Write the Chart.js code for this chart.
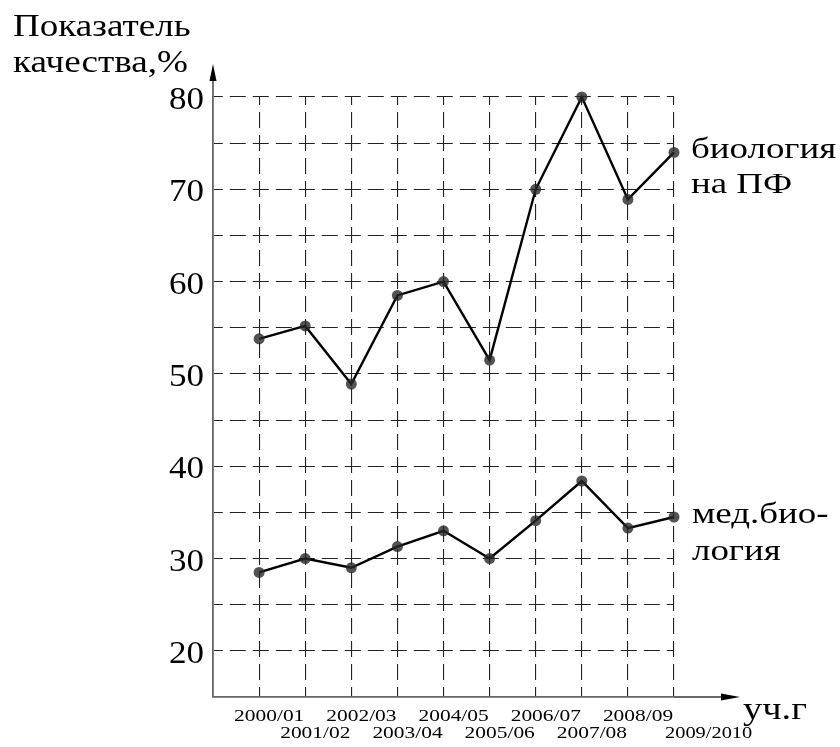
<!DOCTYPE html>
<html>
<head>
<meta charset="utf-8">
<script src="https://cdn.jsdelivr.net/npm/chart.js@4"></script>
<style>
  body { margin: 0; background: #fff; }
  #wrap { width: 840px; height: 747px; position: relative; }
</style>
</head>
<body>
<div id="wrap"><canvas id="myChart"></canvas></div>
<script>
const ctx = document.getElementById('myChart');

// учебные годы
const years = ['2000/01', '2001/02', '2002/03', '2003/04', '2004/05',
  '2005/06', '2006/07', '2007/08', '2008/09', '2009/2010'];

const biologyPF = [53.8, 55.2, 48.9, 58.5, 60, 51.5, 70, 80, 68.9, 74];
const medBiology = [28.5, 30, 29, 31.3, 33, 30, 34.1, 38.4, 33.3, 34.5];

const seriesLabels = [['биология', 'на ПФ'], ['мед.био-', 'логия']];
const yTickLabels = [20, 30, 40, 50, 60, 70, 80];
const yAxisTitle = ['Показатель', 'качества,%'];
const xAxisTitle = 'уч.г';

const serif = "'Liberation Serif', 'DejaVu Serif', serif";

// текст в исходнике растянут по горизонтали
function wideText(c, text, x, y, align, sx) {
  c.save();
  c.translate(x, y);
  c.scale(sx, 1);
  c.textAlign = align;
  c.fillText(text, 0, 0);
  c.restore();
}

// стрелки осей, подписи осей, тиков и серий
const extras = {
  id: 'extras',
  afterDraw(chart) {
    const c = chart.ctx;
    const area = chart.chartArea;
    const x = chart.scales.x;
    const y = chart.scales.y;
    c.save();

    // продолжение осей
    c.strokeStyle = '#666';
    c.lineWidth = 1.8;
    c.beginPath();
    c.moveTo(area.left, area.top);
    c.lineTo(area.left, 75);
    c.moveTo(area.right, area.bottom);
    c.lineTo(725, area.bottom);
    c.stroke();

    c.fillStyle = '#000';
    c.beginPath();
    c.moveTo(area.left, 64);
    c.lineTo(area.left - 3.5, 81);
    c.lineTo(area.left + 3.5, 81);
    c.closePath();
    c.fill();
    c.beginPath();
    c.moveTo(740, area.bottom);
    c.lineTo(721, area.bottom - 3.5);
    c.lineTo(721, area.bottom + 3.5);
    c.closePath();
    c.fill();

    c.textBaseline = 'alphabetic';
    c.font = '32px ' + serif;
    wideText(c, yAxisTitle[0], 13, 36, 'left', 1.16);
    wideText(c, yAxisTitle[1], 13, 72, 'left', 1.16);
    c.font = '31px ' + serif;
    wideText(c, xAxisTitle, 743, 719, 'left', 1.24);

    // подписи делений оси Y
    c.font = '31px ' + serif;
    yTickLabels.forEach(v => {
      wideText(c, String(v), area.left - 9, y.getPixelForValue(v) + 12, 'right', 1.13);
    });

    // подписи делений оси X, в два ряда
    c.font = '17px ' + serif;
    years.forEach((label, i) => {
      const px = x.getPixelForValue(i);
      const base = i % 2 === 0 ? 721 : 737.5;
      if (i === years.length - 1) {
        wideText(c, label, px - 9, base, 'left', 1.2);
      } else {
        wideText(c, label, px - 25, base, 'left', 1.26);
      }
    });

    // подписи у последних точек
    c.font = '30px ' + serif;
    const lastX = x.getPixelForValue(years.length - 1) + 17;
    const y1 = y.getPixelForValue(biologyPF[biologyPF.length - 1]);
    wideText(c, seriesLabels[0][0], lastX, y1 + 6, 'left', 1.23);
    wideText(c, seriesLabels[0][1], lastX, y1 + 41, 'left', 1.23);
    const y2 = y.getPixelForValue(medBiology[medBiology.length - 1]);
    wideText(c, seriesLabels[1][0], lastX + 1, y2 + 6, 'left', 1.23);
    wideText(c, seriesLabels[1][1], lastX + 1, y2 + 43, 'left', 1.23);

    c.restore();
  }
};

const toPoints = arr => arr.map((v, i) => ({ x: i, y: v }));

const lineStyle = {
  borderColor: '#000',
  borderWidth: 2.4,
  pointRadius: 5.5,
  pointBackgroundColor: 'rgba(40,40,40,0.8)',
  pointBorderWidth: 0,
  tension: 0,
  clip: false
};

new Chart(ctx, {
  type: 'line',
  data: {
    datasets: [
      Object.assign({ label: seriesLabels[0].join(' '), data: toPoints(biologyPF) }, lineStyle),
      Object.assign({ label: seriesLabels[1].join(' '), data: toPoints(medBiology) }, lineStyle)
    ]
  },
  options: {
    responsive: true,
    maintainAspectRatio: false,
    animation: false,
    layout: { padding: { top: 97, right: 166, left: 0, bottom: 0 } },
    plugins: { legend: { display: false }, tooltip: { enabled: false } },
    scales: {
      x: {
        type: 'linear',
        min: -1,
        max: 9,
        afterFit(scale) { scale.height = 50; },
        afterBuildTicks(scale) {
          const t = [];
          for (let v = -1; v <= 9; v++) t.push({ value: v });
          scale.ticks = t;
        },
        grid: {
          color: ctx => ctx.tick && ctx.tick.value === -1 ? 'rgba(0,0,0,0)' : '#222',
          lineWidth: 1.1,
          drawTicks: false
        },
        border: { display: true, color: '#666', width: 1.8, dash: [16, 7], dashOffset: 8 },
        ticks: { display: false }
      },
      y: {
        min: 15,
        max: 80,
        afterFit(scale) { scale.width = 213; },
        afterBuildTicks(scale) {
          const t = [];
          for (let v = 15; v <= 80; v += 5) t.push({ value: v });
          scale.ticks = t;
        },
        grid: {
          color: ctx => ctx.tick && ctx.tick.value === 15 ? 'rgba(0,0,0,0)' : '#222',
          lineWidth: 1.1,
          drawTicks: false
        },
        border: { display: true, color: '#666', width: 1.8, dash: [16, 7], dashOffset: 7 },
        ticks: { display: false }
      }
    }
  },
  plugins: [extras]
});
</script>
</body>
</html>
